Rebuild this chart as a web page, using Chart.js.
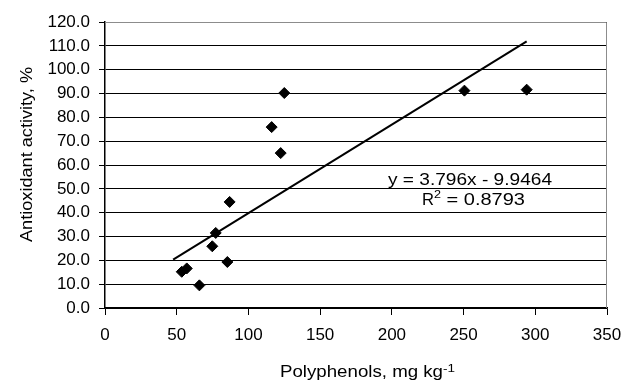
<!DOCTYPE html>
<html>
<head>
<meta charset="utf-8">
<script src="https://cdn.jsdelivr.net/npm/chart.js@4.4.0/dist/chart.umd.min.js"></script>
<style>
  html, body { margin: 0; padding: 0; background: #fff; }
  #wrap { width: 624px; height: 381px; }
</style>
</head>
<body>
<div id="wrap"><canvas id="grafico"></canvas></div>
<script>
// valores
var polifenois = [53.5, 57.0, 65.8, 74.8, 77.2, 85.3, 86.9, 116.2, 122.5, 125.0, 250.6, 294.0];
var atividade  = [15.2, 16.6, 9.5, 25.9, 31.5, 19.3, 44.5, 75.9, 65.0, 90.2, 91.2, 91.6];
// linha de tendência (extremos)
var tendenciaX = [47.5, 294.0];
var tendenciaY = [20.3, 111.9];
var ticksX = [0, 50, 100, 150, 200, 250, 300, 350];
var ticksY = [0, 10, 20, 30, 40, 50, 60, 70, 80, 90, 100, 110, 120];

var fonte = "'Liberation Sans', Arial, sans-serif";

// escreve texto esticado na horizontal até a largura desejada
function texto(ctx, str, x, y, largura){
    var w = ctx.measureText(str).width;
    var s = largura ? largura / w : 1;
    ctx.save();
    ctx.translate(x, y);
    ctx.scale(s, 1);
    ctx.textAlign = 'left';
    ctx.fillText(str, 0, 0);
    ctx.restore();
    return w * s;
}

// textos com sobrescrito
var textos = {
    id: 'textos',
    afterDraw: function(chart){
        var ctx = chart.ctx;
        var a = chart.chartArea;
        ctx.save();
        // borda cinza da área
        ctx.strokeStyle = '#8c8c8c';
        ctx.lineWidth = 1;
        ctx.beginPath();
        ctx.moveTo(a.left, a.top + 0.5);
        ctx.lineTo(a.right - 0.5, a.top + 0.5);
        ctx.lineTo(a.right - 0.5, a.bottom);
        ctx.stroke();

        ctx.fillStyle = '#000';
        ctx.textBaseline = 'alphabetic';

        // equação
        ctx.font = '17px ' + fonte;
        texto(ctx, 'y = 3.796x - 9.9464', 388, 185, 164);

        // R²
        var x0 = 422;
        x0 += texto(ctx, 'R', x0, 205, 12);
        ctx.font = '11px ' + fonte;
        x0 += texto(ctx, '2', x0, 198, 7);
        ctx.font = '17px ' + fonte;
        texto(ctx, ' = 0.8793', x0, 205, 525 - x0);

        // título eixo x
        ctx.font = '17px ' + fonte;
        var xt = 280 + texto(ctx, 'Polyphenols, mg kg', 280, 377, 163);
        ctx.font = '11px ' + fonte;
        texto(ctx, '-1', xt, 372, 12);

        // título eixo y
        ctx.font = '17px ' + fonte;
        ctx.translate(32, 242);
        ctx.rotate(-Math.PI / 2);
        texto(ctx, 'Antioxidant activity, %', 0, 0, 175);
        ctx.restore();
    }
};

var pontos = polifenois.map(function(v, i){ return {x: v, y: atividade[i]}; });
var linha = tendenciaX.map(function(v, i){ return {x: v, y: tendenciaY[i]}; });

var config = {
    type: 'scatter',
    data: {
        datasets: [{
            data: pontos,
            pointStyle: 'rectRot',
            pointRadius: 5.5,
            backgroundColor: '#000',
            borderColor: '#000',
            borderWidth: 1,
            order: 2
        }, {
            type: 'line',
            data: linha,
            borderColor: '#000',
            borderWidth: 2,
            pointRadius: 0,
            fill: false,
            order: 1
        }]
    },
    options: {
        responsive: true,
        maintainAspectRatio: false,
        animation: false,
        events: [],
        layout: { padding: { left: 0, right: 17, top: 22, bottom: 0 } },
        plugins: { legend: { display: false }, tooltip: { enabled: false } },
        scales: {
            x: {
                type: 'linear',
                min: 0, max: 350,
                afterBuildTicks: function(s){ s.ticks = ticksX.map(function(v){ return {value: v}; }); },
                afterFit: function(s){ s.height = 73; s.paddingLeft = 0; s.paddingRight = 0; },
                grid: { drawOnChartArea: false, drawTicks: true, tickLength: 7, color: '#000' },
                border: { color: '#000', width: 1.5 },
                ticks: { color: '#000', font: { family: fonte, size: 17 }, padding: 10, maxRotation: 0 }
            },
            y: {
                type: 'linear',
                min: 0, max: 120,
                afterBuildTicks: function(s){ s.ticks = ticksY.map(function(v){ return {value: v}; }); },
                afterFit: function(s){ s.width = 105; s.paddingTop = 0; s.paddingBottom = 0; },
                grid: { color: '#000', lineWidth: 1, tickLength: 6 },
                border: { color: '#000', width: 1.5 },
                ticks: {
                    color: '#000', font: { family: fonte, size: 17 }, padding: 9,
                    callback: function(v){ return Number(v).toFixed(1); }
                }
            }
        }
    },
    plugins: [textos]
};

var ctx = new Chart(document.getElementById("grafico"), config);
</script>
</body>
</html>
